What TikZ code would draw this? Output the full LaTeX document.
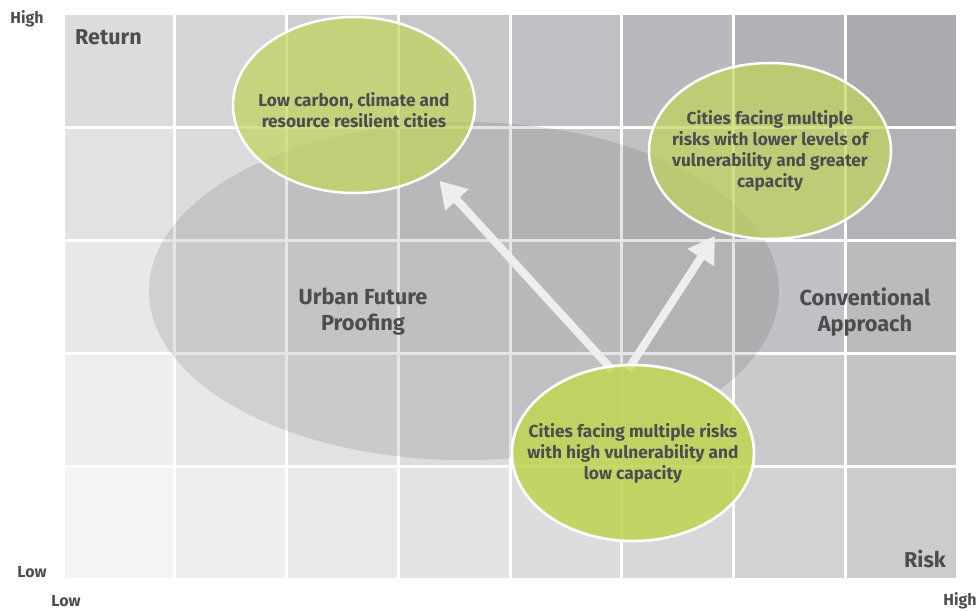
\documentclass[tikz,border=0pt]{standalone}
\usepackage{fontspec}
\setmainfont{Fira Sans}
\usetikzlibrary{arrows.meta,shapes.geometric}
\definecolor{ufpCell}{RGB}{160,161,165}
\definecolor{ufpGreen}{RGB}{194,212,92}
\definecolor{ufpText}{HTML}{4D4D4F}
\definecolor{ufpArrow}{HTML}{EEEEEE}
\tikzset{
  ufp zone/.style={ellipse, fill=black, fill opacity=0.1, minimum width=630pt, minimum height=338pt, inner sep=0pt},
  ufp bubble/.style={ellipse, draw=white, line width=2.5pt, fill=ufpGreen, fill opacity=0.72, minimum width=242pt, minimum height=176pt, inner sep=0pt},
  ufp note/.style={align=center, font=\bfseries\fontsize{17.3}{21}\selectfont, text=ufpText, inner sep=0pt},
  ufp arrow/.style={draw=ufpArrow, line width=8pt, -{Triangle[length=26pt,width=30pt]}},
  ufp axis/.style={font=\bfseries\fontsize{16}{17}\selectfont, text=ufpText, inner sep=0pt},
  ufp corner/.style={font=\bfseries\fontsize{21.5}{24}\selectfont, text=ufpText, inner sep=0pt},
  ufp region/.style={align=center, font=\bfseries\fontsize{21.8}{26}\selectfont, text=ufpText, inner sep=0pt},
}
\begin{document}
\begin{tikzpicture}[x=1pt,y=-1pt]
  \useasboundingbox (0,0) rectangle (979,610);
  % Shaded grid, lighter towards low risk and low return
  \foreach \c in {0,...,7}
    \foreach \r in {0,...,4} {
      \pgfmathsetmacro\shade{11.6+6.35*\r+6.06*\c+0.36*\r*\c}
      \fill[ufpCell!\shade!white] (63+111.75*\c+1.5,579-113*\r-1.5) rectangle (63+111.75*\c+111.75-1.5,579-113*\r-113+1.5);
    }
  \node[ufp zone] (zone) at (464,291) {};
  \node[ufp region] (ufp) at (363,312) {Urban Future\\Proofing};
  \node[ufp region] (conv) at (865,312) {Conventional\\Approach};
  % Bubbles
  \node[ufp bubble] (lowcarbon) at (354,105) {};
  \node[ufp bubble] (lowvuln) at (770,151) {};
  \node[ufp bubble] (highvuln) at (633,453) {};
  \draw[ufp arrow, shorten >=10pt] ([xshift=-21pt,yshift=-6pt]highvuln.north) -- (lowcarbon.-41);
  \draw[ufp arrow, shorten >=5pt] ([xshift=-5pt,yshift=-6pt]highvuln.north) -- (lowvuln.-123);
  \node[ufp bubble] at (highvuln) {};
  \node[ufp note] (lowcarbon text) at ([yshift=-5pt]lowcarbon) {Low carbon, climate and\\resource resilient cities};
  \node[ufp note] (lowvuln text) at (lowvuln) {Cities facing multiple\\risks with lower levels of\\vulnerability and greater\\capacity};
  \node[ufp note] (highvuln text) at (highvuln) {Cities facing multiple risks\\with high vulnerability and\\low capacity};
  % Axis words
  \node[ufp corner, anchor=west] (return) at (75,37) {Return};
  \node[ufp corner, anchor=east] (risk) at (946,559) {Risk};
  \node[ufp axis] (rhigh) at (27,19) {High};
  \node[ufp axis] (rlow) at (32,572) {Low};
  \node[ufp axis] (klow) at (66,601) {Low};
  \node[ufp axis] (khigh) at (960,601) {High};
\end{tikzpicture}
\end{document}
